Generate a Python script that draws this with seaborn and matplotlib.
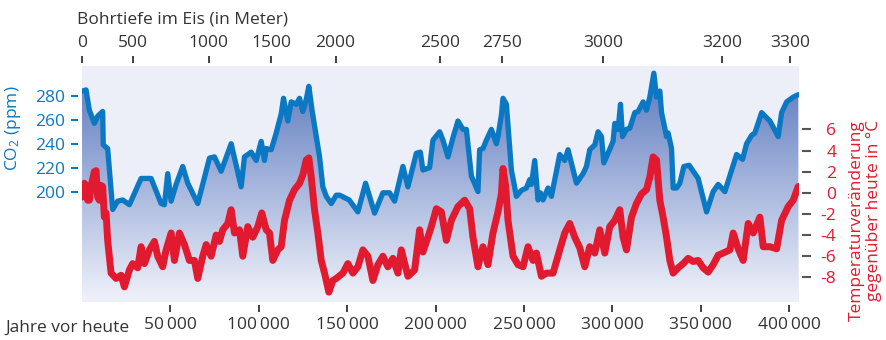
import numpy as np
import pandas as pd
import seaborn as sns
import matplotlib.pyplot as plt
from matplotlib.colors import LinearSegmentedColormap

# CO2 (ppm), years before today
co2_years = [0, 2260, 4130, 6960, 8830, 11660, 12000, 14490, 17320, 20150,
             22980, 26780, 33400, 39060, 44720, 46590, 48460, 50380, 53210, 56950,
             59780, 65440, 72060, 74890, 78680, 84340, 87170, 90000, 91870, 95670,
             98500, 101330, 103190, 104160, 106990, 109820, 112650, 113950, 116380, 118310,
             121140, 123000, 124870, 126800, 128270, 130190, 134330, 136190, 138120, 140950,
             143780, 145650, 151100, 156000, 160360, 165460, 170160, 173950, 176780, 181480,
             184310, 189060, 191330, 192800, 196590, 198460, 202250, 204120, 206950, 209780,
             212610, 215440, 217370, 220200, 223930, 224890, 226760, 228690, 231520, 234350,
             235250, 237180, 238080, 240010, 242840, 245670, 248500, 251330, 253200, 254160,
             256030, 257900, 259250, 260730, 263560, 265480, 270180, 273010, 274880, 279630,
             283370, 285290, 287160, 289990, 291860, 293780, 295090, 296610, 300350, 301310,
             303180, 304540, 305670, 307940, 309800, 312630, 314500, 317330, 319260, 321130,
             323390, 324920, 326790, 327750, 330580, 331480, 333410, 334310, 336240, 338110,
             340370, 343370, 348470, 353220, 356960, 359790, 363580, 370200, 373600, 375860,
             378690, 380560, 384350, 389050, 393750, 395670, 398500, 402240, 405070]
co2_ppm = [284, 285, 268, 257, 263, 267, 239, 236, 185, 192,
           193, 189, 211, 211, 190, 189, 215, 192, 206, 221,
           207, 190, 228, 229, 217, 240, 222, 204, 229, 233,
           226, 242, 226, 236, 235, 249, 265, 278, 259, 275,
           273, 278, 267, 277, 288, 267, 229, 204, 196, 190,
           197, 197, 193, 183, 207, 182, 199, 199, 192, 221,
           204, 232, 233, 218, 220, 243, 250, 243, 229, 245,
           259, 252, 252, 213, 200, 235, 236, 243, 252, 240,
           246, 264, 278, 273, 218, 196, 201, 203, 210, 206,
           226, 193, 199, 193, 203, 196, 231, 226, 235, 207,
           215, 221, 235, 239, 250, 246, 224, 229, 242, 257,
           252, 273, 246, 252, 253, 266, 267, 275, 268, 279,
           299, 279, 284, 266, 246, 249, 236, 203, 203, 207,
           221, 222, 211, 183, 200, 206, 200, 231, 227, 240,
           247, 249, 266, 259, 246, 266, 275, 279, 281]

# temperature change vs. today (°C)
temp_years = [0, 1300, 2260, 3170, 4130, 5090, 6960, 7930, 8830, 9790,
              10760, 11660, 12620, 13590, 14490, 16420, 19250, 22080, 23940, 26780,
              28640, 31470, 33400, 35270, 38100, 40930, 42790, 45630, 47550, 50380,
              52250, 55080, 57910, 60740, 63570, 65440, 68270, 70190, 73020, 75850,
              77720, 79590, 82420, 84340, 86210, 89040, 90910, 93740, 96570, 99400,
              101670, 104160, 106020, 107890, 110720, 112650, 114510, 117350, 120180, 123000,
              124870, 126800, 128270, 129630, 131500, 133360, 135290, 137160, 139590, 141860,
              143780, 147520, 150350, 153180, 156010, 158840, 161670, 164500, 167330, 170160,
              172990, 175820, 178650, 180570, 184310, 188100, 190930, 192800, 195630, 197560,
              200390, 203220, 206050, 208880, 212610, 216400, 219240, 221100, 223930, 226760,
              229590, 232420, 235250, 237180, 238080, 239610, 240920, 243750, 246580, 249410,
              252240, 255070, 256990, 259820, 262650, 266390, 270180, 273010, 275840, 278670,
              281500, 284330, 287160, 289990, 292820, 295650, 298480, 301310, 304140, 306010,
              307940, 310770, 313600, 316430, 319260, 321130, 322990, 324920, 326790, 328650,
              330580, 332450, 334320, 337150, 339980, 342810, 345640, 348470, 351300, 354130,
              356960, 359790, 362620, 366410, 368280, 371110, 373940, 376770, 379600, 383390,
              385260, 389050, 392850, 395680, 399410, 402240, 405070]
temp_change = [-0.4, 0.9, 0.7, -0.7, -0.7, 0.6, 2.0, 2.1, -0.4, -0.7,
               0.7, 0.6, -2.3, -1.9, -4.5, -7.6, -8.1, -7.8, -8.9, -7.3,
               -6.7, -7.1, -5.1, -6.7, -5.4, -4.6, -6.0, -7.0, -5.4, -3.8,
               -6.4, -3.8, -4.9, -6.4, -6.4, -8.1, -6.0, -4.9, -6.0, -4.0,
               -4.6, -3.5, -2.9, -1.6, -3.8, -3.5, -6.0, -3.2, -4.2, -3.2,
               -1.9, -3.5, -3.8, -6.4, -5.4, -5.1, -2.6, -0.7, 0.3, 0.9,
               1.7, 3.1, 3.3, 1.5, -1.6, -3.8, -6.4, -7.6, -9.4, -8.3,
               -8.1, -7.6, -6.7, -7.6, -7.0, -5.4, -6.0, -8.3, -6.8, -6.0,
               -7.0, -6.2, -7.6, -5.4, -7.9, -7.3, -3.5, -5.6, -4.2, -3.2,
               -1.5, -1.8, -4.5, -2.6, -1.3, -0.7, -1.5, -4.2, -7.0, -5.1,
               -6.8, -3.8, -1.8, -0.1, 2.3, 0.6, -2.6, -6.0, -6.8, -7.0,
               -5.1, -6.4, -5.7, -7.9, -7.6, -7.6, -5.4, -3.8, -2.9, -4.2,
               -5.2, -7.0, -5.1, -5.7, -3.5, -5.7, -3.2, -2.6, -1.6, -4.2,
               -5.4, -2.3, -1.0, -0.1, 0.3, 1.5, 3.4, 3.1, -0.7, -2.3,
               -4.2, -6.4, -7.6, -7.1, -6.7, -6.2, -6.5, -6.4, -7.1, -7.5,
               -6.8, -5.9, -5.7, -5.4, -3.8, -5.3, -6.4, -2.9, -3.8, -2.3,
               -5.1, -5.1, -5.3, -2.6, -1.3, -0.7, 0.6]

# top axis: ice core depth (m) and the age it corresponds to
depth_m = [0, 500, 1000, 1500, 2000, 2500, 2750, 3000, 3200, 3300]
depth_years = [0, 28900, 71700, 107000, 143400, 202700, 237400, 294900, 361900, 400600]

year_ticks = [50000, 100000, 150000, 200000, 250000, 300000, 350000, 400000]
co2_ticks = [200, 220, 240, 260, 280]
temp_ticks = [-8, -6, -4, -2, 0, 2, 4, 6]

BLUE = '#0a78c2'
RED = '#e11a2f'
DARK = '#333333'

sns.set_theme(style='white')
plt.rcParams['font.family'] = ['Open Sans', 'DejaVu Sans']
plt.rcParams['mathtext.fontset'] = 'custom'
plt.rcParams['mathtext.rm'] = 'Open Sans'
plt.rcParams['mathtext.it'] = 'Open Sans'

co2_df = pd.DataFrame({'year': co2_years, 'co2': co2_ppm})
temp_df = pd.DataFrame({'year': temp_years, 'temp': temp_change})

XMAX = 405500
CO2_LIM = (107.7, 305)
TEMP_LIM = (-10.33, 12)

fig = plt.figure(figsize=(8.86, 3.4), dpi=100)
ax = fig.add_axes([0.0926, 0.1118, 0.8092, 0.6941])
ax.set_facecolor('#eceef8')
ax.set_xlim(0, XMAX)
ax.set_ylim(*CO2_LIM)

# gradient fill under the CO2 curve
fill = ax.fill_between(co2_df['year'], co2_df['co2'], CO2_LIM[0], color='none', lw=0)
cmap = LinearSegmentedColormap.from_list('ice', ['#f0f2fa', '#a5b5dc', '#5877bd'])
grad = np.linspace(0, 1, 256).reshape(-1, 1)
img = ax.imshow(grad, cmap=cmap, aspect='auto', origin='lower',
                extent=[0, XMAX, CO2_LIM[0], CO2_LIM[1]], zorder=1)
img.set_clip_path(fill.get_paths()[0], transform=ax.transData)

sns.lineplot(data=co2_df, x='year', y='co2', ax=ax, color=BLUE, lw=3.8,
             sort=False, estimator=None, zorder=3)
ax.set_xlim(0, XMAX)
ax.set_ylim(*CO2_LIM)

ax2 = ax.twinx()
sns.lineplot(data=temp_df, x='year', y='temp', ax=ax2, color=RED, lw=5,
             sort=False, estimator=None, zorder=3)
ax2.set_ylim(*TEMP_LIM)
ax2.set_xlim(0, XMAX)

ax_top = ax.twiny()
ax_top.set_xlim(0, XMAX)

for a in (ax, ax2, ax_top):
    for s in a.spines.values():
        s.set_visible(False)

# bottom axis (years)
ax.spines['bottom'].set_position(('outward', 2.5))
ax.set_xticks(year_ticks, [f'{v:,}'.replace(',', '\u2009') for v in year_ticks])
ax.tick_params(axis='x', bottom=True, length=5, width=1.3, color=DARK,
               labelcolor=DARK, labelsize=12.5, pad=3.5)
ax.set_xlabel('')

# left axis (CO2)
ax.spines['left'].set_position(('outward', 3))
ax.set_yticks(co2_ticks)
ax.tick_params(axis='y', left=True, length=5, width=1.5, color=BLUE,
               labelcolor=BLUE, labelsize=12.5, pad=4)
ax.set_ylabel('CO$_2$ (ppm)', color=BLUE, fontsize=12.5)
ax.yaxis.set_label_coords(-0.083, 0.737)

# right axis (temperature)
ax2.spines['right'].set_position(('outward', 2.5))
ax2.set_yticks(temp_ticks, [str(v) for v in temp_ticks])
ax2.tick_params(axis='y', right=True, length=6.5, width=1.5, color='#555555',
                labelcolor=RED, labelsize=12.5, pad=18)
plt.setp(ax2.get_yticklabels(), ha='right')
ax2.set_ylabel('')

# top axis (depth)
ax_top.spines['top'].set_position(('outward', 2.5))
ax_top.set_xticks(depth_years, [str(d) for d in depth_m])
ax_top.tick_params(axis='x', top=True, length=5, width=1.3, color=DARK,
                   labelcolor=DARK, labelsize=12.5, pad=3.5)

fig.text(0.087, 0.944, 'Bohrtiefe im Eis (in Meter)', color=DARK,
         fontsize=12.5, ha='left', va='center')
fig.text(0.006, 0.0244, 'Jahre vor heute', color=DARK, fontsize=12.5,
         ha='left', va='baseline')
fig.text(0.977, 0.647, 'Temperaturveränderung\ngegenüber heute in °C', color=RED,
         fontsize=12.5, rotation=90, ha='center', va='top',
         multialignment='right', linespacing=1.05)

plt.savefig('out.png', dpi=100)
plt.close()
